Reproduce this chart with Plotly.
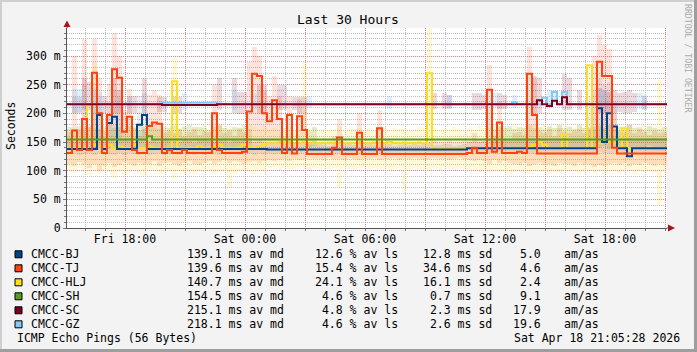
import plotly.graph_objects as go
import pandas as pd

N = None
# ---------------- data (15-minute bins, last 30 hours) ----------------
START = pd.Timestamp("2026-04-17 15:06:00")
STEP_MIN = 15
NBINS = 120

NAMES = ["CMCC-BJ", "CMCC-TJ", "CMCC-HLJ", "CMCC-SH", "CMCC-SC", "CMCC-GZ"]
COLORS = ["#004586", "#ff420e", "#ffde20", "#579d1c", "#7e0021", "#83caff"]
AV_MD = [139.1, 139.6, 140.7, 154.5, 215.1, 218.1]
AV_LS = [12.6, 15.4, 24.1, 4.6, 4.8, 4.6]
SD = [12.8, 34.6, 16.1, 0.7, 2.3, 2.6]
AM_AS = [5.0, 4.6, 2.4, 9.1, 17.9, 19.6]

X_TICK_TIMES = ["2026-04-17 18:00", "2026-04-17 21:00", "2026-04-18 00:00", "2026-04-18 03:00",
                "2026-04-18 06:00", "2026-04-18 09:00", "2026-04-18 12:00", "2026-04-18 15:00",
                "2026-04-18 18:00", "2026-04-18 21:00"]
X_TICK_TEXT = ["Fri 18:00", "", "Sat 00:00", "", "Sat 06:00", "", "Sat 12:00", "", "Sat 18:00", ""]
Y_TICK_VALS = [0, 50, 100, 150, 200, 250, 300]
Y_TICK_TEXT = ["0", "50 m", "100 m", "150 m", "200 m", "250 m", "300 m"]

# median round trip (ms)
BJ_MED = [138, 138, 138, 138, 138, 138, 197, 138, 183, 194,
          138, 138, 138, 138, 180, 197, 138, 138, 138, 138,
          138, 138, 138, 138, 138, 138, 138, 138, 138, 138,
          138, 138, 138, 138, 138, 138, 138, 138, 138, 138,
          137, 137, 137, 137, 137, 137, 137, 137, 137, 137,
          137, 137, 137, 137, 137, 137, 137, 137, 137, 137,
          137, 137, 137, 137, 137, 137, 137, 137, 137, 137,
          137, 137, 137, 137, 137, 137, 137, 137, 137, 137,
          139, 139, 139, 139, 139, 139, 139, 139, 139, 139,
          139, 139, 139, 139, 139, 139, 139, 139, 139, 139,
          139, 139, 139, 139, 139, 139, 209, 150, 200, 177,
          139, 139, 125, 139, 139, 139, 139, 139, 139, 139]
TJ_MED = [131, 170, 136, 190, 136, 271, 200, 131, 197, 277,
          262, 168, 194, 136, 131, 131, 178, 184, 182, 131,
          136, 131, 131, 136, 131, 131, 131, 131, 131, 200,
          136, 131, 131, 131, 131, 133, 203, 269, 265, 200,
          186, 223, 190, 131, 197, 130, 195, 171, 129, 129,
          129, 129, 129, 140, 158, 129, 129, 129, 166, 129,
          129, 129, 174, 129, 129, 129, 129, 129, 129, 129,
          129, 129, 129, 129, 129, 129, 129, 129, 129, 129,
          131, 140, 131, 131, 241, 133, 184, 131, 131, 131,
          133, 131, 269, 197, 130, 130, 130, 130, 130, 130,
          130, 130, 130, 130, 130, 130, 290, 265, 265, 140,
          130, 130, 130, 130, 130, 130, 130, 130, 130, 130]
HLJ_MED = [140, 140, 142, 140, 214, 145, 142, 140, 145, 140,
           142, 140, 140, 145, 140, 140, 142, 140, 140, 140,
           140, 256, 140, 140, 140, 140, 142, 140, 140, 142,
           145, 140, 140, 140, 141, 145, 142, 140, 143, 145,
           148, 148, 148, 148, 148, 148, 148, 148, 148, 148,
           148, 148, 148, 148, 148, 148, 148, 148, 148, 148,
           148, 148, 148, 148, 150, 148, 148, 148, 148, 148,
           148, 148, 270, 139, 139, 139, 139, 139, 139, 139,
           139, 139, 139, 139, 139, 139, 139, 139, 139, 139,
           139, 139, 141, 145, 150, 145, 139, 139, 139, 163,
           139, 139, 139, 139, 284, 139, 148, 150, 150, 148,
           139, 174, 139, 139, 139, 139, 139, 139, 139, 139]
SH_MED = [154.5, 154.5, 154.5, 154.5, 154.5, 154.5, 154.5, 154.5, 154.5, 154.5,
          154.5, 154.5, 154.5, 154.5, 154.5, 154.5, 160.0, 154.5, 154.5, 154.5,
          154.5, 154.5, 154.5, 154.5, 154.5, 154.5, 154.5, 154.5, 154.5, 154.5,
          154.5, 154.5, 154.5, 154.5, 154.5, 154.5, 154.5, 154.5, 154.5, 154.5,
          154.5, 154.5, 154.5, 154.5, 154.5, 154.5, 154.5, 154.5, 154.5, 154.5,
          154.5, 154.5, 154.5, 154.5, 154.5, 154.5, 154.5, 154.5, 154.5, 154.5,
          154.5, 154.5, 154.5, 154.5, 154.5, 154.5, 154.5, 154.5, 154.5, 154.5,
          154.5, 154.5, 154.5, 154.5, 154.5, 154.5, 154.5, 154.5, 154.5, 154.5,
          154.5, 154.5, 154.5, 154.5, 154.5, 154.5, 154.5, 154.5, 154.5, 154.5,
          154.5, 154.5, 154.5, 154.5, 154.5, 154.5, 154.5, 154.5, 154.5, 154.5,
          154.5, 154.5, 154.5, 154.5, 154.5, 154.5, 154.5, 154.5, 154.5, 154.5,
          154.5, 154.5, 154.5, 154.5, 154.5, 154.5, 154.5, 154.5, 154.5, 154.5]
SC_MED = [216, 216, 216, 216, 216, 216, 216, 216, 216, 216,
          216, 216, 216, 216, 216, 216, 216, 216, 216, 214.5,
          214.5, 214.5, 214.5, 214.5, 214.5, 214.5, 214.5, 214.5, 214.5, 214.5,
          216, 216, 216, 216, 216, 216, 216, 216, 216, 216,
          216, 216, 216, 216, 216, 216, 216, 216, 216, 216,
          216, 216, 216, 216, 216, 216, 216, 216, 216, 216,
          216, 216, 216, 216, 216, 216, 216, 216, 216, 216,
          216, 216, 216, 216, 216, 216, 216, 216, 216, 216,
          216, 216, 216, 216, 216, 216, 216, 216, 216, 216,
          216, 216, 216, 216, 223, 216, 213, 222, 216, 228,
          216, 216, 216, 216, 216, 216, 216, 216, 216, 216,
          216, 216, 216, 216, 216, 216, 216, 216, 216, 216]
GZ_MED = [216, 216, 216, 216, 216, 216, 216, 216, 216, 216,
          216, 216, 216, 216, 216, 216, 216, 216, 216, 218.5,
          218.5, 218.5, 218.5, 218.5, 218.5, 218.5, 218.5, 218.5, 218.5, 218.5,
          216, 216, 216, 216, 216, 216, 216, 216, 216, 216,
          216, 216, 216, 216, 216, 216, 216, 216, 216, 216,
          216, 216, 216, 216, 216, 216, 216, 216, 216, 216,
          216, 216, 216, 216, 216, 216, 216, 216, 216, 216,
          216, 216, 216, 216, 216, 216, 216, 216, 216, 216,
          216, 216, 216, 216, 216, 216, 216, 216, 216, 219.5,
          216, 216, 216, 216, 216, 227, 216, 237, 216, 237,
          216, 216, 216, 216, 216, 216, 216, 216, 216, 216,
          216, 216, 216, 216, 216, 216, 216, 216, 216, 216]

# smoke (ping spread) low / high per bin (ms)
BJ_LO = [128, 130, 127, 129, 131, 128, 130, 127, 129, 128,
         130, 128, 131, 129, 127, 130, 128, 129, 131, 128,
         129, 130, 128, 131, 129, 127, 130, 128, 129, 130,
         128, 131, 129, 130, 128, 129, 131, 128, 130, 129,
         130, 129, 131, 128, 130, 129, 131, 130, 128, 129,
         131, 129, 130, 128, 131, 129, 130, 131, 129, 128,
         130, 131, 129, 130, 128, 131, 129, 130, 131, 128,
         129, 130, 128, 131, 129, 130, 128, 129, 131, 130,
         131, 129, 132, 130, 131, 129, 132, 130, 131, 129,
         130, 132, 131, 129, 130, 132, 131, 130, 129, 132,
         131, 130, 132, 129, 131, 130, 132, 131, 129, 130,
         132, 131, 130, 129, 132, 130, 131, 129, 132, 130]
BJ_HI = [152, 150, 155, 250, 153, 245, 230, 158, 220, 240,
         230, 156, 154, 150, 230, 235, 152, 155, 150, 153,
         151, 154, 150, 156, 152, 149, 153, 155, 151, 150,
         154, 152, 148, 153, 151, 155, 152, 150, 154, 149,
         150, 148, 152, 149, 151, 150, 147, 152, 149, 151,
         148, 150, 151, 149, 152, 148, 150, 149, 151, 150,
         149, 151, 150, 148, 152, 150, 149, 151, 148, 150,
         151, 149, 150, 152, 148, 150, 151, 149, 150, 152,
         152, 154, 153, 151, 155, 153, 152, 156, 154, 153,
         155, 153, 156, 154, 157, 155, 153, 156, 154, 157,
         155, 153, 156, 154, 230, 240, 260, 250, 255, 220,
         156, 154, 157, 155, 153, 156, 154, 157, 155, 153]
TJ_LO = [112, 108, 115, 110, 104, 112, 100, 108, 113, 106,
         110, 115, 112, 108, 114, 110, 112, 116, 109, 113,
         115, 111, 108, 113, 117, 112, 110, 114, 116, 112,
         115, 118, 113, 117, 115, 112, 115, 116, 114, 117,
         118, 116, 119, 120, 117, 121, 119, 120, 122, 120,
         121, 118, 122, 120, 121, 119, 122, 120, 118, 121,
         120, 122, 119, 121, 120, 122, 118, 121, 120, 122,
         121, 119, 120, 122, 121, 120, 118, 121, 122, 120,
         118, 116, 119, 117, 112, 118, 114, 116, 113, 112,
         110, 114, 108, 111, 113, 110, 112, 109, 114, 111,
         112, 108, 113, 110, 112, 106, 110, 108, 112, 114,
         110, 113, 109, 112, 110, 113, 111, 108, 112, 110]
TJ_HI = [168, 300, 172, 330, 176, 330, 262, 170, 252, 340,
         300, 205, 242, 176, 160, 172, 232, 240, 232, 166,
         170, 165, 172, 160, 168, 176, 162, 170, 168, 250,
         182, 165, 170, 160, 172, 168, 290, 316, 300, 240,
         230, 265, 230, 160, 230, 150, 225, 200, 146, 144,
         147, 145, 143, 160, 190, 145, 146, 144, 200, 145,
         146, 144, 205, 145, 147, 143, 145, 146, 144, 147,
         145, 146, 148, 144, 145, 147, 146, 143, 145, 147,
         150, 165, 150, 152, 285, 160, 220, 155, 156, 165,
         168, 162, 316, 260, 170, 165, 172, 160, 175, 168,
         166, 170, 172, 165, 175, 300, 337, 320, 312, 200,
         170, 168, 180, 165, 172, 168, 162, 170, 165, 168]
HLJ_LO = [100, 96, 104, 98, 92, 100, 95, 102, 97, 88,
          100, 94, 98, 102, 96, 90, 99, 101, 95, 98,
          97, 85, 100, 96, 102, 94, 99, 97, 101, 95,
          98, 100, 72, 96, 99, 101, 97, 95, 100, 98,
          104, 106, 102, 105, 100, 103, 107, 104, 101, 105,
          103, 106, 102, 104, 70, 105, 103, 101, 104, 106,
          103, 105, 102, 104, 100, 103, 105, 66, 102, 104,
          101, 103, 100, 104, 102, 106, 103, 101, 105, 103,
          100, 102, 98, 101, 96, 99, 97, 100, 95, 98,
          101, 96, 94, 99, 97, 100, 95, 98, 96, 99,
          97, 100, 95, 98, 101, 96, 99, 94, 97, 100,
          96, 98, 101, 95, 99, 97, 100, 96, 40, 98]
HLJ_HI = [172, 176, 170, 180, 175, 290, 172, 178, 170, 182,
          176, 171, 178, 174, 180, 173, 177, 175, 179, 172,
          176, 296, 174, 178, 171, 177, 175, 179, 173, 176,
          180, 174, 178, 172, 177, 175, 179, 176, 173, 178,
          172, 175, 170, 174, 176, 171, 173, 290, 172, 175,
          170, 174, 171, 173, 176, 170, 174, 172, 175, 171,
          174, 170, 173, 176, 171, 175, 172, 174, 170, 173,
          176, 175, 350, 174, 171, 175, 172, 176, 173, 170,
          175, 172, 178, 174, 176, 180, 173, 177, 175, 179,
          174, 178, 176, 181, 175, 179, 177, 174, 180, 176,
          178, 175, 180, 176, 177, 173, 181, 176, 179, 175,
          178, 174, 180, 177, 175, 179, 176, 178, 258, 175]
SH_LO = [140, 138, 142, 139, 141, 137, 140, 143, 138, 141,
         139, 142, 140, 138, 141, 139, 143, 140, 138, 142,
         139, 141, 140, 138, 142, 140, 139, 141, 143, 138,
         140, 142, 139, 141, 140, 138, 142, N, N, N,
         N, N, N, N, N, N, N, N, 141, 143,
         N, N, N, N, N, N, N, N, N, N,
         N, N, N, N, N, N, N, N, N, N,
         N, N, N, N, N, N, N, N, N, N,
         N, N, N, N, N, 142, 140, 138, 141, 139,
         142, 140, 137, 141, 139, 143, 140, 138, 142, 139,
         141, 140, 138, 142, 139, 141, 140, 143, 138, 141,
         139, 142, 140, 138, 141, 139, 143, 140, 138, 141]
SH_HI = [176, 172, 178, 174, 180, 175, 173, 177, 179, 174,
         176, 172, 178, 175, 171, 177, 174, 179, 173, 176,
         174, 178, 172, 176, 179, 173, 177, 175, 171, 176,
         178, 174, 172, 177, 175, 179, 173, N, N, N,
         N, N, N, N, N, N, N, N, 170, 176,
         N, N, N, N, N, N, N, N, N, N,
         N, N, N, N, N, N, N, N, N, N,
         N, N, N, N, N, N, N, N, N, N,
         N, N, N, N, N, 172, 176, 174, 178, 173,
         177, 175, 179, 174, 176, 172, 178, 175, 180, 174,
         177, 173, 179, 175, 171, 176, 178, 174, 180, 173,
         177, 175, 179, 174, 176, 172, 178, 175, 173, 177]
SC_LO = [N, 200, 200, 205, 205, N, N, 200, N, 200,
         200, N, 200, 200, N, 200, N, N, 202, 202,
         N, 200, 200, N, N, N, N, N, N, N,
         206, N, N, 200, 198, 198, N, N, 200, 200,
         N, N, 206, 206, N, 206, 200, 200, N, N,
         N, N, N, N, N, N, N, N, N, N,
         N, N, N, N, N, N, N, N, N, N,
         N, N, N, 207, N, 207, 207, N, N, N,
         N, 205, 205, 207, N, N, 207, 207, N, N,
         N, N, N, 200, 200, N, N, N, N, 205,
         205, N, 205, N, N, N, 200, 200, 202, 200,
         202, 200, 200, 202, N, 205, N, N, N, N]
SC_HI = [N, 229, 229, 262, 255, N, N, 231, N, 262,
         240, N, 231, 231, N, 262, N, N, 229, 229,
         N, 229, 229, N, N, N, N, N, N, N,
         262, N, N, 262, 237, 237, N, N, 250, 250,
         N, N, 250, 250, N, 229, 229, 229, N, N,
         N, N, N, N, N, N, N, N, N, N,
         N, N, N, N, N, N, N, N, N, N,
         N, N, N, 236, N, 236, 232, N, N, N,
         N, 236, 236, 232, N, N, 236, 232, N, N,
         N, N, N, 265, 262, N, N, N, N, 268,
         262, N, 240, N, N, N, 245, 240, 238, 240,
         236, 238, 240, 236, N, 230, N, N, N, N]
GZ_LO = [N, 200, 203, N, N, 200, 200, N, N, N,
         N, N, 210, N, N, N, N, N, N, N,
         N, N, N, 205, N, N, N, N, N, N,
         N, N, N, 205, N, N, N, 205, N, N,
         N, N, N, N, N, N, N, N, 210, N,
         N, N, N, N, N, N, N, N, N, N,
         N, N, N, N, 207, N, N, N, N, N,
         N, N, N, N, N, N, 210, N, N, N,
         N, N, N, N, N, 210, N, N, N, 210,
         N, N, N, N, N, N, 215, 215, N, N,
         N, N, N, N, N, N, 210, 210, N, N,
         N, N, N, N, 208, 208, N, N, N, N]
GZ_HI = [N, 243, 243, N, N, 240, 238, N, N, N,
         N, N, 228, N, N, N, N, N, N, N,
         N, N, N, 235, N, N, N, N, N, N,
         N, N, N, 240, N, N, N, 235, N, N,
         N, N, N, N, N, N, N, N, 230, N,
         N, N, N, N, N, N, N, N, N, N,
         N, N, N, N, 230, N, N, N, N, N,
         N, N, N, N, N, N, 232, N, N, N,
         N, N, N, N, N, 236, N, N, N, 232,
         N, N, N, N, N, N, 240, 240, N, N,
         N, N, N, N, N, N, 243, 240, N, N,
         N, N, N, N, 235, 232, N, N, N, N]

# ---------------- figure ----------------
W, H = 697, 352
L, R, T, B = 67, 667, 28, 228  # plot area in pixels
FONT = "DejaVu Sans Mono"


def pxx(x):
    return (x - L) / (R - L)


def pxy(y):
    return (B - y) / (B - T)


def ts(t):
    return t.strftime("%Y-%m-%d %H:%M:%S")


edges = [ts(START + pd.Timedelta(minutes=STEP_MIN * i)) for i in range(NBINS + 1)]
centers = [ts(START + pd.Timedelta(minutes=STEP_MIN * i + STEP_MIN / 2)) for i in range(NBINS)]
END = edges[-1]

fig = go.Figure()


def smoke(lo, hi, rgba):
    base = [l if (l is not None and h is not None) else 0 for l, h in zip(lo, hi)]
    hgt = [(h - l) if (l is not None and h is not None) else None for l, h in zip(lo, hi)]
    fig.add_trace(go.Bar(x=centers, y=hgt, base=base, width=STEP_MIN * 60 * 1000,
                         marker=dict(color=rgba, line=dict(width=0)),
                         showlegend=False, hoverinfo="skip"))


def median(vals, color):
    fig.add_trace(go.Scatter(x=edges, y=list(vals) + [vals[-1]], mode="lines",
                             line=dict(color=color, width=2, shape="hv"),
                             showlegend=False, hoverinfo="skip"))


smoke(HLJ_LO, HLJ_HI, "rgba(255,222,32,0.17)")
smoke(SH_LO, SH_HI, "rgba(87,157,28,0.16)")
smoke(BJ_LO, BJ_HI, "rgba(0,69,134,0.09)")
smoke(TJ_LO, TJ_HI, "rgba(255,66,14,0.14)")
smoke(SC_LO, SC_HI, "rgba(126,0,33,0.15)")
smoke(GZ_LO, GZ_HI, "rgba(131,202,255,0.28)")

median(HLJ_MED, COLORS[2])
median(BJ_MED, COLORS[0])
median(TJ_MED, COLORS[1])
median(SH_MED, COLORS[3])
median(GZ_MED, COLORS[5])
median(SC_MED, COLORS[4])

tickfont = dict(family=FONT, size=11.5, color="#000000")
MAJOR_GRID = "rgba(240,90,90,0.6)"
MINOR_GRID = "#bdbdbd"

fig.update_layout(
    width=W, height=H, autosize=False,
    margin=dict(l=L, r=W - R, t=T, b=H - B, pad=0),
    paper_bgcolor="#f3f3f3", plot_bgcolor="#ffffff",
    barmode="overlay", bargap=0, showlegend=False,
    font=dict(family=FONT, size=11.5, color="#000000"),
    xaxis=dict(type="date", range=[edges[0], END], tickmode="array",
               tickvals=X_TICK_TIMES, ticktext=X_TICK_TEXT, tickfont=tickfont,
               showgrid=True, gridcolor=MAJOR_GRID, griddash="1px,1px", gridwidth=1,
               minor=dict(dtick=3600000, tick0="2026-04-17 16:00", showgrid=True,
                          gridcolor=MINOR_GRID, griddash="1px,1px",
                          ticks="outside", ticklen=2, tickcolor="#777777"),
               showline=True, linecolor="#555555", linewidth=1, zeroline=False,
               ticks="", fixedrange=True),
    yaxis=dict(range=[0, 348.84], tickmode="array", tickvals=Y_TICK_VALS,
               ticktext=Y_TICK_TEXT, tickfont=tickfont,
               showgrid=True, gridcolor=MAJOR_GRID, griddash="1px,1px", gridwidth=1,
               minor=dict(dtick=10, showgrid=True, gridcolor=MINOR_GRID, griddash="1px,1px",
                          ticks="outside", ticklen=2, tickcolor="#777777"),
               showline=True, linecolor="#555555", linewidth=1, zeroline=False,
               ticks="outside", ticklen=3, tickcolor="#777777", fixedrange=True),
)

shapes = []
# page frame
shapes.append(dict(type="rect", xref="paper", yref="paper", x0=pxx(0), x1=pxx(W), y0=pxy(0), y1=pxy(2),
                   fillcolor="#cfcfcf", line=dict(width=0), layer="above"))
shapes.append(dict(type="rect", xref="paper", yref="paper", x0=pxx(0), x1=pxx(2), y0=pxy(0), y1=pxy(H),
                   fillcolor="#cfcfcf", line=dict(width=0), layer="above"))
shapes.append(dict(type="rect", xref="paper", yref="paper", x0=pxx(W - 3), x1=pxx(W), y0=pxy(0), y1=pxy(H),
                   fillcolor="#9e9e9e", line=dict(width=0), layer="above"))
shapes.append(dict(type="rect", xref="paper", yref="paper", x0=pxx(0), x1=pxx(W), y0=pxy(H - 3), y1=pxy(H),
                   fillcolor="#9e9e9e", line=dict(width=0), layer="above"))
# axis extensions and arrows
shapes.append(dict(type="line", xref="paper", yref="paper", x0=pxx(R), x1=pxx(669), y0=pxy(B), y1=pxy(B),
                   line=dict(color="#555555", width=1)))
shapes.append(dict(type="path", xref="paper", yref="paper",
                   path=f"M {pxx(675)},{pxy(B)} L {pxx(668)},{pxy(B - 3.5)} L {pxx(668)},{pxy(B + 3.5)} Z",
                   fillcolor="#a01818", line=dict(width=0)))
shapes.append(dict(type="line", xref="paper", yref="paper", x0=pxx(L), x1=pxx(L), y0=pxy(T), y1=pxy(26),
                   line=dict(color="#555555", width=1)))
shapes.append(dict(type="path", xref="paper", yref="paper",
                   path=f"M {pxx(L)},{pxy(20.5)} L {pxx(L - 3.5)},{pxy(27)} L {pxx(L + 3.5)},{pxy(27)} Z",
                   fillcolor="#a01818", line=dict(width=0)))

annotations = []


def text(x, y, s, anchor="left", size=11.5, color="#000000", angle=0):
    annotations.append(dict(x=pxx(x), y=pxy(y), xref="paper", yref="paper", text=s.replace(" ", "\u00a0"),
                            showarrow=False, xanchor=anchor, yanchor="middle", textangle=angle,
                            font=dict(family=FONT, size=size, color=color), borderpad=0))


text(348, 19, "Last 30 Hours", anchor="center", size=13)
text(11, 126, "Seconds", anchor="center", angle=-90)
text(688, 58, "RRDTOOL / TOBI OETIKER", anchor="center", size=8.2, color="#ababab", angle=90)

ROW0, ROWH = 254.3, 14.0
for i, name in enumerate(NAMES):
    yc = ROW0 + ROWH * i
    shapes.append(dict(type="rect", xref="paper", yref="paper",
                       x0=pxx(15), x1=pxx(22), y0=pxy(yc - 3.5), y1=pxy(yc + 3.5),
                       fillcolor=COLORS[i], line=dict(color="#000000", width=1)))
    text(29.5, yc, name)
    text(185.5, yc, f"{AV_MD[i]:.1f} ms av md")
    text(314, yc, f"{AV_LS[i]:4.1f} % av ls")
    text(421.5, yc, f"{SD[i]:4.1f} ms sd")
    text(542, yc, f"{AM_AS[i]:.1f}", anchor="right")
    text(563, yc, "am/as")

text(16, 338.3, "ICMP Echo Pings (56 Bytes)")
text(680.5, 338.3, "Sat Apr 18 21:05:28 2026", anchor="right")

fig.update_layout(shapes=shapes, annotations=annotations)
fig.write_html("out.html")
